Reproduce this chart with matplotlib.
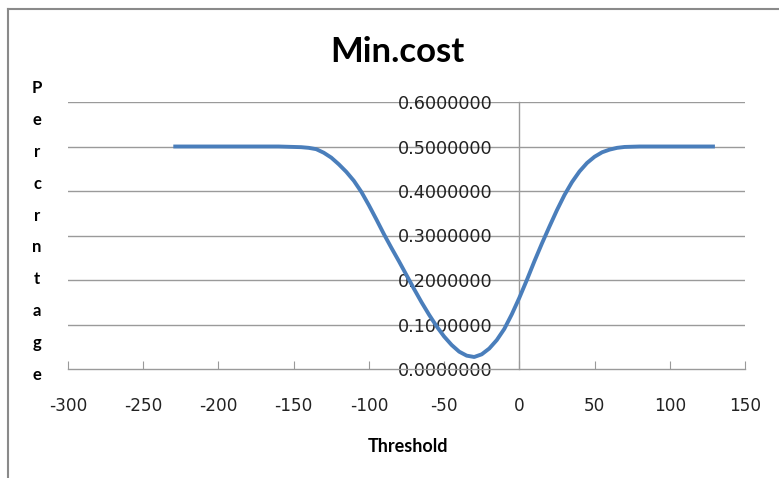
import numpy as np
import matplotlib
matplotlib.use('Agg')
import matplotlib.pyplot as plt
from matplotlib.lines import Line2D

# --- Data ---
threshold = [-230, -200, -170, -160, -150, -145, -140, -135, -130, -125,
             -120, -115, -110, -105, -100, -95, -90, -85, -80, -75,
             -70, -65, -60, -55, -50, -45, -40, -35, -30, -25,
             -20, -15, -10, -5, 0, 5, 10, 15, 20, 25,
             30, 35, 40, 45, 50, 55, 60, 65, 70, 80,
             100, 130]
min_cost = [0.500, 0.500, 0.500, 0.500, 0.499, 0.4985, 0.497, 0.494, 0.486, 0.475,
            0.460, 0.443, 0.423, 0.398, 0.368, 0.336, 0.303, 0.272, 0.242, 0.211,
            0.180, 0.150, 0.122, 0.096, 0.073, 0.054, 0.039, 0.030, 0.027, 0.033,
            0.046, 0.065, 0.090, 0.123, 0.160, 0.200, 0.242, 0.282, 0.320, 0.357,
            0.391, 0.420, 0.444, 0.463, 0.477, 0.487, 0.493, 0.497, 0.499, 0.500,
            0.500, 0.500]
x_ticks = [-300, -250, -200, -150, -100, -50, 0, 50, 100, 150]
y_ticks = [0.0, 0.1, 0.2, 0.3, 0.4, 0.5, 0.6]
title = 'Min.cost'
x_label = 'Threshold'
y_label = 'Percrntage'

W, H = 779, 478
fig = plt.figure(figsize=(W / 100, H / 100), dpi=100)
fig.patch.set_facecolor('white')

# axes area in pixels: x -300..150 -> 68..745, y 0..0.6 -> 369..102
ax = fig.add_axes([68 / W, 1 - 369 / H, (745 - 68) / W, (369 - 102) / H])
ax.set_xlim(-300, 150)
ax.set_ylim(0, 0.6)

grid_col = '#9a9a9a'
for y in y_ticks[1:]:
    ax.axhline(y, color=grid_col, lw=1.0, zorder=1)

ax.plot(threshold, min_cost, color='#4a7ebb', lw=2.8, solid_capstyle='butt',
        solid_joinstyle='round', zorder=3)

for s in ['top', 'right']:
    ax.spines[s].set_visible(False)
ax.spines['bottom'].set_color(grid_col)
ax.spines['left'].set_color(grid_col)
ax.spines['left'].set_position(('data', 0))
ax.spines['bottom'].set_linewidth(1.0)
ax.spines['left'].set_linewidth(1.0)

ax.set_xticks(x_ticks)
ax.set_xticklabels([str(v) for v in x_ticks])
ax.tick_params(axis='x', direction='in', length=6, color=grid_col, pad=20,
               labelsize=12.2, labelcolor='#222222')
for lab in ax.get_xticklabels():
    lab.set_family(['Liberation Sans Narrow', 'DejaVu Sans'])

ax.set_yticks(y_ticks)
ax.set_yticklabels([f'{v:.7f}' for v in y_ticks])
ax.tick_params(axis='y', length=0, pad=19, labelsize=12.7, labelcolor='#222222')
for lab in ax.get_yticklabels():
    lab.set_family('DejaVu Sans')
    lab.set_zorder(5)

# title and axis titles
fig.text(397 / W, 1 - 52 / H, title, ha='center', va='center',
         fontsize=25, fontweight='bold', family='Lato', color='black')
fig.text(408 / W, 1 - 446 / H, x_label, ha='center', va='center',
         fontsize=13, fontweight='bold', family='Lato', color='black')
for ch, yp in zip(y_label, np.linspace(88, 375, len(y_label))):
    fig.text(37 / W, 1 - yp / H, ch, ha='center', va='center',
             fontsize=12, fontweight='bold', family='Lato', color='black')

# outer frame (left and top edges of the cropped chart area)
fig.add_artist(Line2D([8 / W, 8 / W], [0, 1 - 9 / H], transform=fig.transFigure,
                      color='#8a8a8a', lw=1.5))
fig.add_artist(Line2D([8 / W, 1], [1 - 9 / H, 1 - 9 / H], transform=fig.transFigure,
                      color='#8a8a8a', lw=1.5))

fig.savefig('out.png', dpi=100)
